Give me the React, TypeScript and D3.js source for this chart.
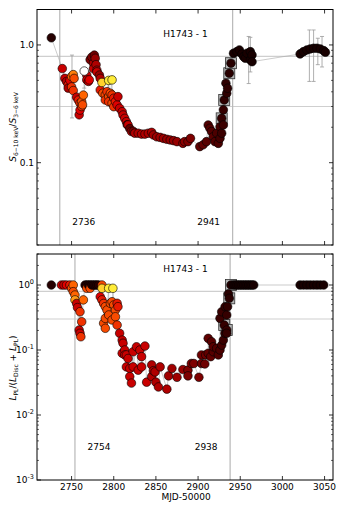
import React from 'react';
import * as d3 from 'd3';

const W = 341;
const H = 511;
const FONT = 'DejaVu Sans, sans-serif';

const xDomain: [number, number] = [2709, 3060];
const xTicks = [2750, 2800, 2850, 2900, 2950, 3000, 3050];
const refLevels = [0.8, 0.3];
const colourStops = ['#180000', '#7e0000', '#e00000', '#ff6400', '#ffec38'];

// top panel: hardness ratio S(6-10 keV)/S(3-6 keV)  [MJD-50000, ratio, colour index]
const hrPoints: [number, number, number][] = [
  [2726, 1.15, 0.05], [2739, 0.63, 0.5], [2742, 0.52, 0.5], [2744, 0.49, 0.45],
  [2746, 0.46, 0.6], [2746, 0.43, 0.45], [2748, 0.5, 0.55], [2750, 0.54, 0.75],
  [2750, 0.44, 0.65], [2752, 0.56, 0.8], [2752, 0.41, 0.65], [2753, 0.52, 0.7],
  [2756, 0.36, 0.5], [2758, 0.34, 0.6], [2759, 0.255, 0.5], [2760, 0.32, 0.65],
  [2760, 0.28, 0.55], [2762, 0.3, 0.65], [2762, 0.33, 0.7], [2763, 0.31, 0.7],
  [2764, 0.375, 0.75], [2768, 0.555, 0.5], [2768, 0.505, 0.5], [2770, 0.49, 0.5],
  [2771, 0.505, 0.55], [2772, 0.75, 0.35], [2774, 0.79, 0.35], [2776, 0.7, 0.45],
  [2776, 0.63, 0.5], [2777, 0.82, 0.3], [2778, 0.77, 0.4], [2779, 0.68, 0.45],
  [2780, 0.61, 0.45], [2780, 0.59, 0.5], [2783, 0.555, 0.4], [2784, 0.52, 0.45],
  [2784, 0.415, 0.6], [2786, 0.48, 0.95], [2787, 0.389, 0.7], [2790, 0.376, 0.7],
  [2790, 0.341, 0.65], [2792, 0.401, 0.65], [2794, 0.5, 1.0], [2794, 0.364, 0.7],
  [2794, 0.33, 0.65], [2796, 0.389, 0.7], [2798, 0.505, 1.0], [2798, 0.376, 0.65],
  [2798, 0.32, 0.7], [2800, 0.353, 0.6], [2800, 0.299, 0.65], [2802, 0.33, 0.6],
  [2804, 0.309, 0.55], [2805, 0.364, 0.5], [2807, 0.29, 0.5], [2810, 0.271, 0.5],
  [2811, 0.254, 0.5], [2813, 0.238, 0.5], [2815, 0.223, 0.5], [2816, 0.21, 0.25],
  [2817, 0.209, 0.5], [2819, 0.195, 0.25], [2821, 0.184, 0.45], [2823, 0.185, 0.3],
  [2825, 0.178, 0.45], [2829, 0.178, 0.45], [2833, 0.175, 0.45], [2837, 0.175, 0.45],
  [2841, 0.178, 0.45], [2845, 0.181, 0.45], [2847, 0.172, 0.42], [2851, 0.166, 0.42],
  [2855, 0.164, 0.42], [2859, 0.161, 0.42], [2863, 0.158, 0.4], [2867, 0.156, 0.4],
  [2871, 0.154, 0.4], [2875, 0.151, 0.4], [2882, 0.146, 0.38], [2884, 0.151, 0.38],
  [2888, 0.151, 0.35], [2891, 0.161, 0.35], [2902, 0.137, 0.25], [2906, 0.142, 0.25],
  [2910, 0.151, 0.22], [2912, 0.209, 0.2], [2914, 0.196, 0.2], [2916, 0.184, 0.2],
  [2918, 0.166, 0.22], [2920, 0.151, 0.2], [2922, 0.178, 0.18], [2924, 0.146, 0.18],
  [2926, 0.161, 0.15], [2926, 0.202, 0.15], [2928, 0.178, 0.12], [2928, 0.238, 0.1],
  [2930, 0.209, 0.12], [2930, 0.281, 0.1], [2931, 0.341, 0.08], [2933, 0.473, 0.08],
  [2934, 0.389, 0.08], [2935, 0.429, 0.08], [2937, 0.575, 0.06], [2939, 0.7, 0.05],
  [2942, 0.85, 0], [2946, 0.877, 0], [2949, 0.907, 0], [2952, 0.839, 0],
  [2954, 0.796, 0], [2956, 0.771, 0], [2958, 0.85, 0], [2962, 0.877, 0],
  [2962, 0.746, 0], [2964, 0.822, 0], [2964, 0.721, 0],
  [3021, 0.839, 0], [3025, 0.877, 0], [3029, 0.907, 0], [3033, 0.925, 0],
  [3037, 0.937, 0], [3041, 0.937, 0], [3045, 0.925, 0], [3049, 0.895, 0], [3051, 0.867, 0],
];
const hrOpen: [number, number][] = [[2765, 0.6]];
const hrBoxed: [number, number][] = [[2928, 0.238], [2931, 0.341], [2937, 0.575], [2939, 0.7]];
const hrErrors: [number, number, number][] = [
  [2750.5, 0.24, 0.82], [2765, 0.43, 0.56], [2794, 0.38, 0.5],
  [2960, 0.47, 1.18], [2962, 0.59, 1.16],
  [3032, 0.49, 1.34], [3037, 0.49, 1.34], [3042, 0.68, 1.14], [3047, 0.65, 1.18],
];
const hrMarks = [2736, 2941];

// bottom panel: power-law fraction L_PL/(L_Disc+L_PL)
const plPoints: [number, number, number][] = [
  [2726, 1.0, 0.05], [2738, 1.0, 0.5], [2741, 1.0, 0.5], [2744, 1.0, 0.55],
  [2748, 1.0, 0.6], [2750, 0.89, 0.7], [2752, 1.0, 0.75], [2752, 0.79, 0.7],
  [2754, 0.7, 0.75], [2754, 0.59, 0.85], [2756, 0.52, 0.5], [2757, 0.45, 0.5],
  [2759, 0.203, 0.5], [2760, 0.388, 0.65], [2760, 0.181, 0.5], [2761, 0.16, 0.65],
  [2762, 0.272, 0.65], [2764, 0.59, 0.75], [2766, 1.0, 0.05], [2768, 1.0, 0.05],
  [2768, 0.89, 0.7], [2770, 1.0, 0.05], [2772, 1.0, 0.05], [2772, 0.89, 0.7],
  [2774, 1.0, 0.05], [2776, 1.0, 0.05], [2778, 1.0, 0.05], [2780, 1.0, 0.05],
  [2782, 1.0, 0.05], [2784, 0.66, 0.55], [2786, 1.0, 0.7], [2786, 0.89, 0.95],
  [2786, 0.59, 0.6], [2788, 0.52, 0.65], [2788, 0.258, 0.7], [2790, 0.464, 0.7],
  [2790, 0.307, 0.7], [2790, 0.216, 0.7], [2792, 0.412, 0.7], [2794, 0.89, 1.0],
  [2794, 0.346, 0.7], [2796, 0.523, 0.7], [2798, 0.553, 0.7], [2798, 0.29, 0.7],
  [2799, 0.89, 1.0], [2800, 0.493, 0.7], [2802, 0.412, 0.7], [2802, 0.325, 0.7],
  [2804, 0.523, 0.6], [2804, 0.242, 0.65], [2805, 0.464, 0.6], [2807, 0.181, 0.5],
  [2810, 0.142, 0.5], [2810, 0.089, 0.5], [2811, 0.127, 0.5], [2813, 0.1, 0.5],
  [2813, 0.084, 0.5], [2815, 0.084, 0.5], [2815, 0.055, 0.5], [2817, 0.074, 0.5],
  [2819, 0.052, 0.5], [2819, 0.039, 0.5], [2821, 0.031, 0.5], [2823, 0.094, 0.5],
  [2823, 0.055, 0.5], [2827, 0.112, 0.5], [2829, 0.049, 0.5], [2831, 0.1, 0.5],
  [2833, 0.079, 0.5], [2833, 0.055, 0.5], [2837, 0.115, 0.5], [2839, 0.032, 0.5],
  [2845, 0.059, 0.45], [2845, 0.039, 0.45], [2847, 0.048, 0.45], [2849, 0.046, 0.45],
  [2850, 0.032, 0.45], [2853, 0.027, 0.45], [2855, 0.055, 0.45], [2863, 0.025, 0.45],
  [2865, 0.04, 0.42], [2869, 0.052, 0.42], [2875, 0.038, 0.42], [2882, 0.05, 0.4],
  [2888, 0.049, 0.35], [2888, 0.04, 0.35], [2892, 0.062, 0.35], [2895, 0.062, 0.35],
  [2901, 0.038, 0.35], [2904, 0.062, 0.3], [2904, 0.084, 0.3], [2908, 0.061, 0.3],
  [2909, 0.084, 0.3], [2912, 0.089, 0.25], [2912, 0.151, 0.25], [2915, 0.079, 0.25],
  [2916, 0.134, 0.22], [2918, 0.094, 0.22], [2918, 0.112, 0.22], [2922, 0.106, 0.2],
  [2924, 0.084, 0.2], [2926, 0.1, 0.18], [2926, 0.307, 0.12], [2928, 0.119, 0.15],
  [2928, 0.388, 0.12], [2930, 0.142, 0.12], [2931, 0.242, 0.1], [2932, 0.181, 0.12],
  [2932, 0.464, 0.1], [2934, 0.203, 0.1], [2934, 0.346, 0.1], [2934, 0.181, 0.1],
  [2935, 0.464, 0.08], [2936, 0.73, 0.06], [2937, 0.624, 0.06], [2939, 1.0, 0.05],
  [2942, 1.0, 0], [2944, 1.0, 0], [2946, 1.0, 0], [2948, 1.0, 0], [2950, 1.0, 0],
  [2952, 1.0, 0], [2954, 1.0, 0], [2956, 1.0, 0], [2958, 1.0, 0], [2960, 1.0, 0],
  [2962, 1.0, 0], [2964, 1.0, 0], [2966, 1.0, 0],
  [3021, 1.0, 0], [3025, 1.0, 0], [3029, 1.0, 0], [3033, 1.0, 0], [3037, 1.0, 0],
  [3041, 1.0, 0], [3045, 1.0, 0], [3049, 1.0, 0],
];
const plBoxed: [number, number][] = [[2931, 0.242], [2934, 0.203], [2937, 0.624], [2939, 1.0]];
const plMarks = [2754, 2938];

const colour = d3.scaleLinear<string>()
  .domain([0, 0.35, 0.55, 0.75, 1])
  .range(colourStops)
  .interpolate(d3.interpolateRgb)
  .clamp(true);

const x = d3.scaleLinear().domain(xDomain).range([37, 333]);

function minorTicks(domain: [number, number]) {
  const out: number[] = [];
  const e0 = Math.floor(Math.log10(domain[0]));
  const e1 = Math.ceil(Math.log10(domain[1]));
  for (let e = e0; e <= e1; e++) {
    for (let k = 2; k <= 9; k++) {
      const v = k * Math.pow(10, e);
      if (v >= domain[0] && v <= domain[1]) out.push(v);
    }
  }
  return out;
}

type PanelProps = {
  id: string;
  top: number;
  bottom: number;
  yDomain: [number, number];
  majors: { v: number; label: React.ReactNode }[];
  points: [number, number, number][];
  boxed: [number, number][];
  open?: [number, number][];
  errors?: [number, number, number][];
  marks: number[];
  markY: number;
  titleY: number;
  showXLabels: boolean;
};

function Panel(p: PanelProps) {
  const y = d3.scaleLog().domain(p.yDomain).range([p.bottom, p.top]);
  const [x0, x1] = x.range();
  const sorted = [...p.points].sort((a, b) => a[0] - b[0]);
  const line = d3.line<[number, number, number]>().x(d => x(d[0])).y(d => y(d[1]));
  const clip = `clip-${p.id}`;
  return (
    <g>
      <defs>
        <clipPath id={clip}>
          <rect x={x0} y={p.top} width={x1 - x0} height={p.bottom - p.top} />
        </clipPath>
      </defs>
      <g clipPath={`url(#${clip})`}>
        {refLevels.map(v => (
          <line key={v} x1={x0} x2={x1} y1={y(v)} y2={y(v)} stroke="#cfcfcf" strokeWidth={1.2} />
        ))}
        {p.marks.map(m => (
          <line key={m} x1={x(m)} x2={x(m)} y1={p.top} y2={p.bottom} stroke="#b8b8b8" strokeWidth={1.2} />
        ))}
        {(p.errors || []).map((e, i) => (
          <g key={i} stroke="#9a9a9a" strokeWidth={0.8}>
            <line x1={x(e[0])} x2={x(e[0])} y1={y(e[1])} y2={y(e[2])} />
            <line x1={x(e[0]) - 2} x2={x(e[0]) + 2} y1={y(e[1])} y2={y(e[1])} />
            <line x1={x(e[0]) - 2} x2={x(e[0]) + 2} y1={y(e[2])} y2={y(e[2])} />
          </g>
        ))}
        <path d={line(sorted) || ''} fill="none" stroke="#aaaaaa" strokeWidth={0.6} />
        {p.boxed.map((b, i) => (
          <rect key={i} x={x(b[0]) - 5.5} y={y(b[1]) - 5.5} width={11} height={11}
            fill="#b4b4b4" stroke="#333" strokeWidth={0.8} />
        ))}
        {p.points.map((d, i) => (
          <circle key={i} cx={x(d[0])} cy={y(d[1])} r={4.3} fill={colour(d[2])} stroke="#000" strokeWidth={0.6} />
        ))}
        {(p.open || []).map((d, i) => (
          <circle key={i} cx={x(d[0])} cy={y(d[1])} r={4.3} fill="#fff" stroke="#333" strokeWidth={0.8} />
        ))}
      </g>
      <rect x={x0} y={p.top} width={x1 - x0} height={p.bottom - p.top} fill="none" stroke="#000" strokeWidth={1} />
      {xTicks.map(t => (
        <g key={t} stroke="#000" strokeWidth={0.8}>
          <line x1={x(t)} x2={x(t)} y1={p.bottom} y2={p.bottom - 4} />
          <line x1={x(t)} x2={x(t)} y1={p.top} y2={p.top + 4} />
        </g>
      ))}
      {p.majors.map(m => (
        <g key={m.v} stroke="#000" strokeWidth={0.8}>
          <line x1={x0} x2={x0 + 4} y1={y(m.v)} y2={y(m.v)} />
          <line x1={x1} x2={x1 - 4} y1={y(m.v)} y2={y(m.v)} />
        </g>
      ))}
      {minorTicks(p.yDomain).map(v => (
        <g key={v} stroke="#000" strokeWidth={0.6}>
          <line x1={x0} x2={x0 + 2} y1={y(v)} y2={y(v)} />
          <line x1={x1} x2={x1 - 2} y1={y(v)} y2={y(v)} />
        </g>
      ))}
      {p.majors.map(m => (
        <text key={m.v} x={x0 - 3} y={y(m.v) + 3.2} textAnchor="end" fontSize={9} fontFamily={FONT}>{m.label}</text>
      ))}
      {p.showXLabels && xTicks.map(t => (
        <text key={t} x={x(t)} y={p.bottom + 9.5} textAnchor="middle" fontSize={9} fontFamily={FONT}>{t}</text>
      ))}
      <text x={185.5} y={p.titleY} textAnchor="middle" fontSize={9} fontFamily={FONT}>H1743 - 1</text>
      {p.marks.map(m => (
        <text key={m} x={x(m) + (m < 2850 ? 24 : -24)} y={p.markY} textAnchor="middle" fontSize={9} fontFamily={FONT}>{m}</text>
      ))}
    </g>
  );
}

const sup = (base: string, exp: string) => (
  <>
    {base}
    <tspan fontSize={6.5} dy={-4}>{exp}</tspan>
  </>
);

export default function App() {
  return (
    <svg width={W} height={H} style={{ position: 'absolute', left: 0, top: 0, background: '#fff' }}>
      <Panel
        id="hr"
        top={9.5}
        bottom={245}
        yDomain={[0.02, 2]}
        majors={[{ v: 1, label: '1.0' }, { v: 0.1, label: '0.1' }]}
        points={hrPoints}
        boxed={hrBoxed}
        open={hrOpen}
        errors={hrErrors}
        marks={hrMarks}
        markY={224.5}
        titleY={36.5}
        showXLabels={false}
      />
      <Panel
        id="pl"
        top={254}
        bottom={480}
        yDomain={[0.001, 3]}
        majors={[
          { v: 1, label: sup('10', '0') },
          { v: 0.1, label: sup('10', '-1') },
          { v: 0.01, label: sup('10', '-2') },
          { v: 0.001, label: sup('10', '-3') },
        ]}
        points={plPoints}
        boxed={plBoxed}
        marks={plMarks}
        markY={449.5}
        titleY={271.5}
        showXLabels={true}
      />
      <text x={186} y={499.5} textAnchor="middle" fontSize={9} fontFamily={FONT}>MJD-50000</text>
      <text transform="translate(16,127) rotate(-90)" textAnchor="middle" fontSize={9} fontFamily={FONT}>
        <tspan fontStyle="italic">S</tspan>
        <tspan fontSize={6} dy={2}>6−10 keV</tspan>
        <tspan dy={-2}>/</tspan>
        <tspan fontStyle="italic">S</tspan>
        <tspan fontSize={6} dy={2}>3−6 keV</tspan>
      </text>
      <text transform="translate(16,368) rotate(-90)" textAnchor="middle" fontSize={9} fontFamily={FONT}>
        <tspan fontStyle="italic">L</tspan>
        <tspan fontSize={6} dy={2}>PL</tspan>
        <tspan dy={-2}>/(</tspan>
        <tspan fontStyle="italic">L</tspan>
        <tspan fontSize={6} dy={2}>Disc</tspan>
        <tspan dy={-2}> + </tspan>
        <tspan fontStyle="italic">L</tspan>
        <tspan fontSize={6} dy={2}>PL</tspan>
        <tspan dy={-2}>)</tspan>
      </text>
    </svg>
  );
}
